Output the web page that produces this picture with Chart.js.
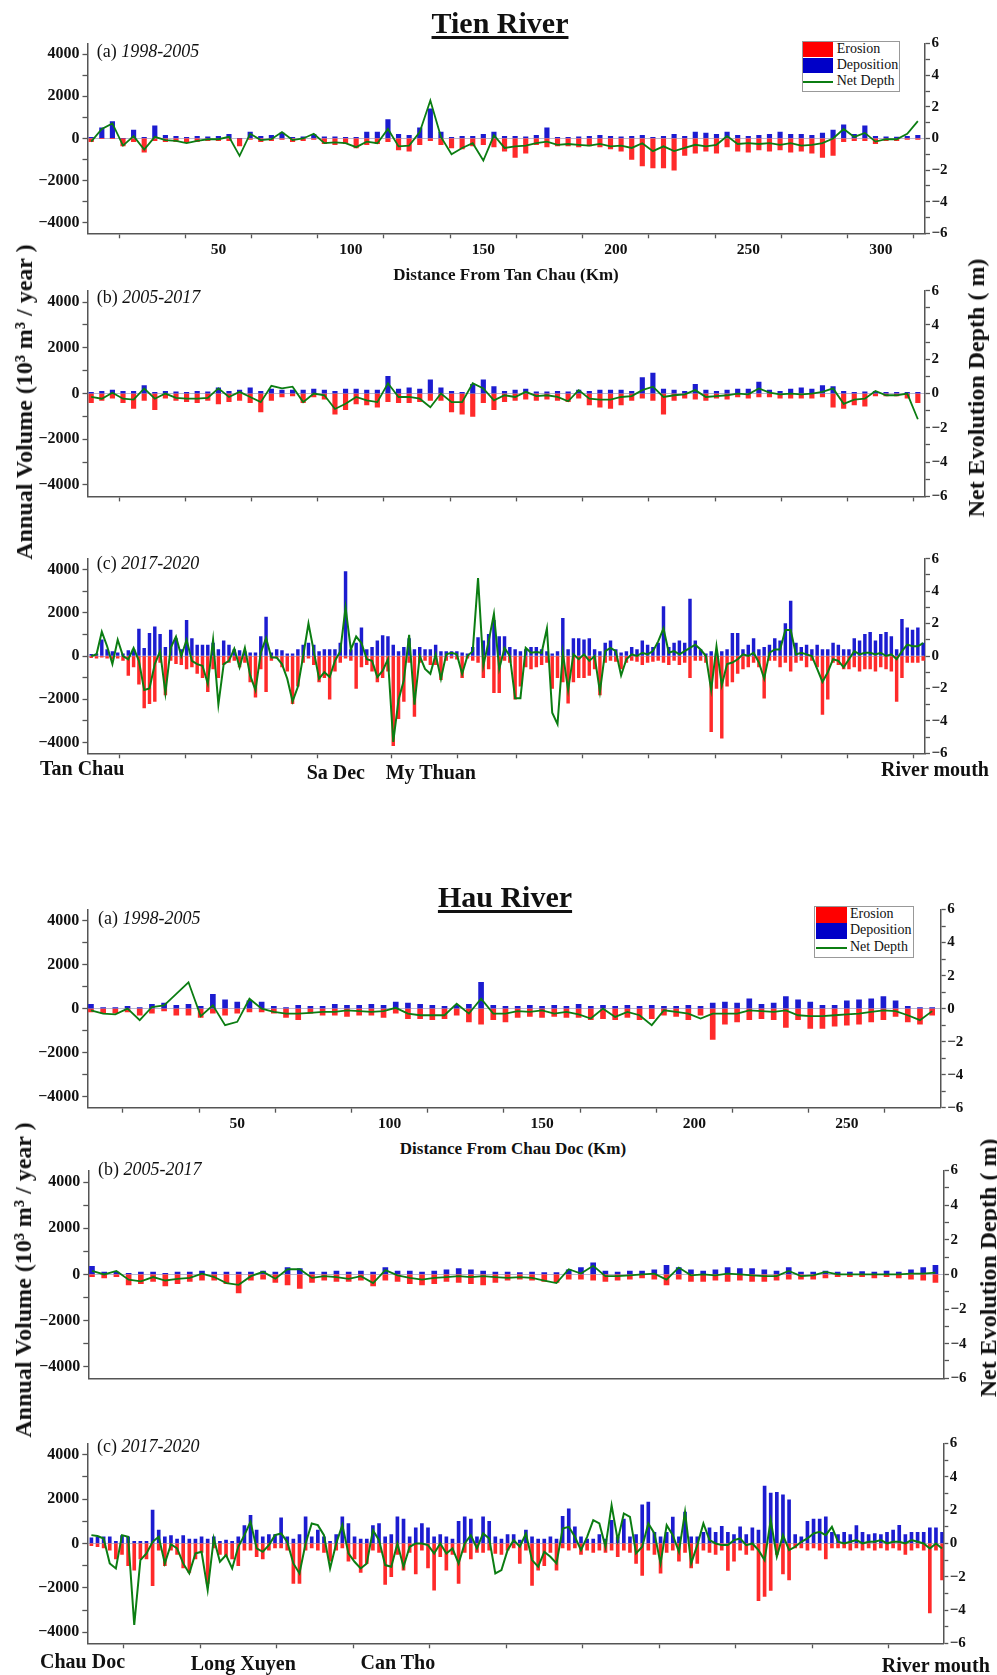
<!DOCTYPE html>
<html><head><meta charset="utf-8">
<script src="https://cdn.jsdelivr.net/npm/chart.js@4.4.1/dist/chart.umd.min.js"></script>
<style>
html,body{margin:0;padding:0;background:#fff;}
#page{position:relative;width:997px;height:1675px;overflow:hidden;font-family:'Liberation Serif','Times New Roman',serif;color:#111;}
.pn{position:absolute;left:0;width:997px;}
.t{position:absolute;white-space:nowrap;line-height:1;}
.leg{position:absolute;border:1px solid #999;background:#fff;}
.sw{position:absolute;}
</style></head><body><div id="page"></div>
<script>
// ---------------- DATA ----------------
// Tien River, panels (a) and (b): distance from Tan Chau (km)
const tienKm = [2,6,10,14,18,22,26,30,34,38,42,46,50,54,58,62,66,70,74,78,82,86,90,94,98,102,106,110,114,118,122,126,130,134,138,142,146,150,154,158,162,166,170,174,178,182,186,190,194,198,202,206,210,214,218,222,226,230,234,238,242,246,250,254,258,262,266,270,274,278,282,286,290,294,298,302,306,310,314];
// Tien (a) 1998-2005
const tienA_ero = [-150,0,0,-350,-150,-650,-100,-150,-150,-200,
  -150,-100,-100,-100,-350,-50,-150,-100,-50,-150,
  -100,-50,-250,-300,-250,-450,-300,-250,-150,-550,
  -600,-300,-100,-300,-450,-500,-350,-300,-400,-600,
  -900,-700,-300,-400,-350,-350,-400,-350,-400,-500,
  -600,-1000,-1300,-1400,-1400,-1500,-800,-700,-600,-700,
  -400,-600,-650,-550,-600,-550,-650,-600,-700,-900,
  -800,-150,-100,-100,-250,-100,-100,-50,-50];
const tienA_dep = [50,500,800,0,400,50,600,150,100,50,
  100,80,100,200,0,300,100,150,250,50,
  80,200,80,80,50,50,300,300,900,200,
  150,500,1400,300,50,100,100,200,300,100,
  100,80,150,500,50,50,80,100,150,100,
  80,100,150,50,100,200,100,300,250,200,
  300,150,100,150,200,300,200,200,150,250,
  400,650,200,600,100,80,60,100,150];
const tienA_net = [-0.2,0.6,0.95,-0.45,0.15,-0.7,0.1,-0.1,-0.15,-0.3,
  -0.15,-0.05,-0.05,0.1,-1.1,0.3,-0.1,-0.05,0.4,-0.1,
  0.0,0.3,-0.3,-0.25,-0.3,-0.55,-0.2,-0.3,0.6,-0.5,
  -0.45,0.4,2.4,0.1,-1.0,-0.6,-0.3,-1.4,0.2,-0.6,
  -0.5,-0.45,-0.3,-0.2,-0.4,-0.35,-0.4,-0.45,-0.35,-0.5,
  -0.45,-0.6,-0.3,-0.8,-0.5,-0.8,-0.6,-0.4,-0.5,-0.4,
  0.15,-0.35,-0.3,-0.35,-0.3,-0.4,-0.3,-0.45,-0.4,-0.3,
  0.0,0.6,0.1,0.35,-0.2,-0.05,-0.05,0.3,1.1];
// Tien (b) 2005-2017
const tienB_ero = [-400,-300,-200,-400,-650,-300,-700,-200,-300,-350,
  -400,-300,-450,-350,-300,-400,-800,-300,-150,-100,
  -400,-150,-250,-900,-700,-450,-500,-600,-350,-400,
  -400,-350,-300,-300,-800,-900,-1000,-400,-700,-350,
  -300,-250,-300,-250,-300,-350,-200,-500,-600,-650,
  -500,-300,-200,-300,-900,-300,-200,-250,-300,-200,
  -250,-150,-200,-150,-150,-200,-200,-200,-200,-150,
  -600,-650,-500,-550,-100,-100,-100,-200,-400];
const tienB_dep = [50,100,150,100,100,350,50,100,80,50,
  100,80,250,100,150,250,100,200,150,150,
  150,200,150,100,200,200,150,150,750,200,
  250,200,600,250,100,50,400,600,300,100,
  150,200,80,80,100,80,150,100,150,150,
  150,100,700,900,200,150,100,400,150,100,
  150,200,200,500,150,100,200,250,200,350,
  300,100,50,80,100,50,50,50,50];
const tienB_net = [-0.2,-0.3,0.05,-0.3,-0.35,0.3,-0.3,0.0,-0.25,-0.3,
  -0.3,-0.25,0.3,-0.2,0.1,-0.2,-0.5,0.45,0.3,0.4,
  -0.5,0.0,-0.1,-0.9,-0.6,-0.2,-0.4,-0.5,0.6,-0.2,
  -0.2,-0.3,-0.8,0.0,-0.5,-0.5,0.6,0.3,-0.4,-0.1,
  -0.2,0.1,-0.15,-0.1,-0.2,-0.45,0.2,-0.3,-0.35,-0.35,
  -0.2,-0.15,0.2,0.4,-0.2,-0.1,-0.05,0.2,-0.2,-0.15,
  -0.1,0.0,-0.05,0.3,0.05,-0.05,0.0,-0.05,0.0,0.1,
  0.3,-0.6,-0.35,-0.3,0.15,-0.1,-0.1,0.0,-1.5];
// Tien (c) 2017-2020, finer spacing
const tienKmC = [2,4,6,8,10,12,14,16,18,20,22,24,26,28,30,32,34,36,38,40,42,44,46,48,50,52,54,56,58,60,62,64,66,68,70,72,74,76,78,80,82,84,86,88,90,92,94,96,98,100,102,104,106,108,110,112,114,116,118,120,122,124,126,128,130,132,134,136,138,140,142,144,146,148,150,152,154,156,158,160,162,164,166,168,170,172,174,176,178,180,182,184,186,188,190,192,194,196,198,200,202,204,206,208,210,212,214,216,218,220,222,224,226,228,230,232,234,236,238,240,242,244,246,248,250,252,254,256,258,260,262,264,266,268,270,272,274,276,278,280,282,284,286,288,290,292,294,296,298,300,302,304,306,308,310,312,314,316];
const tienC_ero = [-80,-100,-50,-100,-150,-100,-200,-900,-500,-1300,
  -2400,-2200,-2100,-300,-1800,-200,-350,-400,-600,-500,
  -800,-1000,-1650,-600,-1000,-400,-300,-200,-500,-300,
  -1200,-1900,-600,-1650,-200,-100,-500,-700,-2200,-1400,
  -300,-100,-400,-1200,-1000,-2000,-700,-300,-100,-200,
  -1500,-500,-400,-700,-1200,-1000,-700,-4150,-2900,-2100,
  -300,-2800,-300,-200,-400,-400,-1100,-200,-100,-150,
  -1000,-100,-200,-300,-1000,-600,-1700,-1700,-200,-300,
  -2000,-1400,-500,-600,-500,-400,-300,-1500,-1000,-1200,
  -2180,-1200,-1000,-1000,-900,-600,-1800,-300,-200,-250,
  -600,-300,-200,-250,-400,-300,-250,-200,-300,-400,
  -200,-400,-300,-1000,-200,-200,-300,-3500,-1500,-3800,
  -1400,-1200,-800,-600,-500,-300,-500,-1950,-200,-200,
  -500,-300,-700,-300,-200,-500,-200,-500,-2700,-2000,
  -300,-400,-600,-600,-500,-700,-600,-600,-700,-500,
  -600,-700,-2100,-1000,-300,-300,-300,-200];
const tienC_dep = [80,100,750,300,200,150,100,250,300,1250,
  350,1050,1350,1000,400,1200,800,300,1650,800,
  500,500,500,600,300,700,500,300,250,200,
  150,150,900,1800,150,300,250,100,100,300,
  500,600,500,200,300,300,300,600,3900,300,
  600,1300,300,400,700,950,900,500,200,400,
  800,300,400,300,300,500,200,200,200,200,
  150,100,400,850,700,1000,1650,900,900,400,
  300,200,300,400,400,300,200,100,200,1740,
  300,800,800,750,800,300,200,600,700,300,
  150,200,400,300,700,500,400,600,2280,400,
  600,700,600,2630,700,300,100,200,100,200,
  300,1050,1050,300,500,800,300,400,500,800,
  700,1500,2540,600,400,500,300,500,300,300,
  600,500,300,300,800,700,1000,1100,700,1000,
  1100,900,300,1700,1300,1200,1300,600];
const tienC_net = [0.0,0.1,1.5,0.6,-0.5,1.0,0.0,-0.2,0.5,-0.3,
  -2.1,-2.0,-0.5,0.3,-2.3,0.5,1.2,0.0,1.0,-0.3,
  -0.5,-0.6,-1.7,1.0,-3.0,-0.5,-0.3,0.45,-0.7,0.5,
  -1.2,-2.1,0.2,1.1,-0.1,-0.1,-0.5,-1.4,-2.8,-1.9,
  0.0,2.0,0.3,-1.4,-1.0,-1.3,-0.3,0.3,3.0,0.4,
  1.2,0.8,-0.2,-0.3,-1.3,-0.9,-0.2,-5.3,-2.7,-1.5,
  1.3,-3.0,0.0,-0.8,-1.1,0.1,-1.4,0.1,0.2,0.1,
  -1.1,0.0,0.3,4.8,-0.6,0.9,2.6,-0.8,0.5,0.0,
  -2.6,-2.6,0.5,0.2,0.25,0.2,1.7,-3.5,-4.2,0.2,
  -2.1,0.1,-0.2,0.1,-0.3,0.0,-2.2,0.3,0.5,0.3,
  -1.2,-0.2,0.1,0.0,0.2,0.1,0.3,0.9,1.7,0.2,
  0.3,0.1,0.3,0.5,0.7,0.4,0.0,-2.1,0.6,-1.8,
  -0.5,-0.4,-0.2,0.1,0.0,0.2,-0.4,-1.4,0.2,0.4,
  0.4,1.6,1.6,0.1,0.2,0.1,0.0,-0.8,-1.6,-1.0,
  -0.2,-0.3,-0.7,-0.2,0.3,0.1,0.2,0.2,0.1,0.2,
  0.0,0.1,-0.2,0.3,0.7,0.6,0.6,0.8];

// Hau River, panels (a) and (b): distance from Chau Doc (km)
const hauKm = [2,6,10,14,18,22,26,30,34,38,42,46,50,54,58,62,66,70,74,78,82,86,90,94,98,102,106,110,114,118,122,126,130,134,138,142,146,150,154,158,162,166,170,174,178,182,186,190,194,198,202,206,210,214,218,222,226,230,234,238,242,246,250,254,258,262,266,270,274,278];
const hauA_ero = [-150,-200,-200,-150,-300,-200,-100,-300,-300,-400,
  -200,-300,-200,-150,-150,-200,-400,-500,-200,-300,
  -300,-350,-300,-300,-400,-200,-450,-450,-500,-450,
  -300,-600,-700,-500,-600,-400,-350,-400,-350,-400,
  -400,-500,-450,-500,-400,-500,-450,-300,-350,-500,
  -300,-1400,-700,-600,-500,-450,-500,-850,-500,-900,
  -900,-800,-750,-700,-600,-500,-350,-600,-700,-300];
const hauA_dep = [200,50,50,100,50,200,250,150,200,100,
  650,400,300,350,300,100,50,150,100,100,
  200,150,150,200,150,300,250,200,150,100,
  150,200,1200,150,100,100,150,100,150,100,
  200,100,150,100,150,100,150,100,100,150,
  100,250,300,250,450,200,250,550,400,300,
  150,150,350,400,450,550,350,100,50,50];
const hauA_net = [-0.1,-0.3,-0.35,0.0,-0.7,0.1,0.2,0.9,1.6,-0.45,
  0.2,-1.0,-0.8,0.6,0.0,-0.2,-0.3,-0.3,-0.25,-0.2,
  -0.2,-0.1,-0.15,-0.2,-0.15,0.05,-0.3,-0.4,-0.4,-0.4,
  0.3,-0.3,0.6,-0.3,-0.3,-0.15,-0.2,-0.1,-0.3,-0.2,
  -0.35,-0.6,0.0,-0.5,-0.2,-0.4,-1.0,-0.1,-0.2,-0.3,
  -0.6,-0.3,-0.3,-0.3,-0.1,-0.15,-0.2,-0.1,-0.4,-0.45,
  -0.45,-0.4,-0.35,-0.3,-0.2,-0.1,-0.15,-0.4,-0.7,-0.15];
const hauB_ero = [-100,-150,-100,-450,-400,-300,-500,-400,-300,-250,
  -250,-400,-800,-250,-200,-350,-450,-600,-350,-250,
  -300,-300,-250,-500,-250,-300,-400,-450,-400,-300,
  -350,-400,-450,-350,-250,-200,-250,-300,-350,-200,
  -200,-250,-300,-250,-200,-150,-200,-450,-200,-300,
  -300,-250,-300,-250,-300,-300,-250,-200,-200,-200,
  -150,-100,-100,-100,-150,-100,-150,-200,-250,-350];
const hauB_dep = [350,100,100,50,100,100,50,100,100,150,
  100,100,100,100,150,100,300,250,100,100,
  150,100,150,100,300,150,150,100,150,200,
  250,200,150,100,100,80,100,80,80,200,
  300,500,150,100,150,150,200,400,300,200,
  150,200,300,250,250,200,150,300,100,100,
  150,100,100,120,100,150,100,200,300,400];
const hauB_net = [0.2,0.0,0.2,-0.3,-0.4,-0.15,-0.35,-0.25,-0.2,0.05,
  -0.15,-0.5,-0.6,-0.1,0.15,-0.25,0.3,0.3,-0.2,-0.1,
  -0.15,-0.25,-0.1,-0.5,0.25,-0.05,-0.2,-0.3,-0.2,-0.15,
  -0.1,-0.15,-0.1,-0.15,-0.2,-0.15,-0.2,-0.35,-0.5,0.3,
  0.05,0.5,-0.1,-0.1,-0.05,0.0,0.05,-0.3,0.4,-0.05,
  0.0,-0.05,0.05,0.0,-0.05,-0.1,-0.1,0.2,-0.1,-0.05,
  0.15,0.0,0.0,0.0,0.0,0.0,0.0,0.05,0.05,0.1];
// Hau (c) 2017-2020, finer spacing
const hauKmC = [2,4,6,8,10,12,14,16,18,20,22,24,26,28,30,32,34,36,38,40,42,44,46,48,50,52,54,56,58,60,62,64,66,68,70,72,74,76,78,80,82,84,86,88,90,92,94,96,98,100,102,104,106,108,110,112,114,116,118,120,122,124,126,128,130,132,134,136,138,140,142,144,146,148,150,152,154,156,158,160,162,164,166,168,170,172,174,176,178,180,182,184,186,188,190,192,194,196,198,200,202,204,206,208,210,212,214,216,218,220,222,224,226,228,230,232,234,236,238,240,242,244,246,248,250,252,254,256,258,260,262,264,266,268,270,272,274,276,278,280];
const hauC_ero = [-100,-150,-200,-300,-700,-500,-1000,-1200,-700,-700,
  -1900,-300,-1000,-300,-500,-1100,-1300,-700,-400,-1800,
  -200,-500,-600,-700,-1000,-300,-300,-600,-700,-300,
  -200,-200,-300,-1800,-1800,-300,-200,-300,-400,-800,
  -300,-200,-800,-700,-1300,-900,-300,-400,-1850,-1500,
  -500,-1200,-400,-1370,-300,-1100,-2100,-600,-1200,-500,
  -1800,-400,-700,-400,-400,-300,-450,-500,-300,-200,
  -900,-300,-1890,-1200,-1000,-400,-1200,-200,-300,-200,
  -500,-300,-400,-300,-400,-300,-600,-300,-400,-900,
  -1445,-300,-500,-1340,-400,-300,-800,-400,-1100,-900,
  -300,-400,-500,-300,-1220,-800,-300,-500,-300,-2580,
  -2385,-2115,-500,-1370,-1640,-200,-200,-300,-200,-300,
  -700,-200,-200,-200,-300,-200,-300,-200,-300,-200,
  -300,-200,-300,-500,-300,-200,-300,-3130,-300,-1640];
const hauC_dep = [250,300,300,300,100,350,300,100,100,100,
  1500,600,300,350,200,350,200,200,300,200,
  300,100,150,100,300,800,1270,600,300,400,
  400,1160,300,200,400,1200,300,600,300,100,
  400,1200,900,300,200,200,800,900,300,400,
  1200,1100,300,700,900,700,300,400,300,200,
  1000,1200,1100,300,1200,1000,300,200,400,400,
  150,600,300,200,200,300,200,1220,1560,745,
  300,200,200,400,200,1040,300,1100,300,400,
  1740,1860,500,300,500,1190,300,1415,300,300,
  500,700,500,775,500,400,750,400,700,600,
  2580,2265,2300,2190,1970,400,300,1000,1100,1100,
  1200,500,400,500,400,800,500,400,450,400,
  500,600,820,400,500,500,500,700,700,500];
const hauC_net = [0.5,0.45,0.3,-1.2,-1.5,0.5,0.4,-4.9,-1.0,-0.6,
  0.1,0.4,-1.2,-0.05,-0.3,-1.2,-1.8,-0.6,-0.5,-2.8,
  0.3,-1.1,-0.7,-1.5,-0.2,0.5,1.3,-0.3,-0.5,-0.1,
  0.5,0.6,0.1,-1.2,-1.8,0.0,1.2,1.1,0.5,-1.5,
  0.0,1.1,-0.6,-1.1,-1.5,-1.2,0.8,0.2,-1.3,-1.4,
  0.0,-1.4,-0.2,0.0,0.0,-0.1,-0.6,0.0,-0.6,-0.3,
  -1.2,0.0,0.5,-0.3,0.6,0.3,-1.8,-1.6,-0.4,0.2,
  -0.2,0.6,-1.0,-1.4,-0.5,-0.8,-1.2,0.9,1.0,0.4,
  -0.4,0.4,1.4,1.2,-0.2,2.3,0.2,1.8,1.6,-0.6,
  -0.2,1.2,0.6,-1.2,1.1,0.5,-0.5,1.9,-1.2,-0.1,
  1.2,0.2,0.0,-0.1,-0.1,0.2,0.3,-0.1,0.0,-0.4,
  -1.0,1.4,-0.8,0.5,-0.4,-0.2,0.1,0.3,0.6,0.7,
  0.5,1.0,0.1,0.0,0.1,0.2,0.0,0.1,0.1,0.2,
  0.0,0.1,0.1,0.0,0.2,0.1,0.0,-0.3,0.0,-0.3];

// Tick values and labels
const volTicks = [-4000,-3000,-2000,-1000,0,1000,2000,3000,4000];
const volLabels = [-4000,-2000,0,2000,4000];
const depthTicks = [-6,-5,-4,-3,-2,-1,0,1,2,3,4,5,6];
const depthLabels = [-6,-4,-2,0,2,4,6];
const tienXTicks = [25,50,75,100,125,150,175,200,225,250,275,300];
const tienXLabels = [50,100,150,200,250,300];
const tienXTicksC = [25,50,75,100,130.5,150,175,200,225,250,275,300];
const hauXTicks = [25,50,75,100,125,150,175,200,225,250,275];
const hauXLabels = [50,100,150,200,250];

// ---------------- DRAWING ----------------
const FONT = "'Liberation Serif','Times New Roman',serif";
const page = document.getElementById('page');
const fmt = v => v < 0 ? '\u2212' + Math.abs(v) : String(v);

function addText(html, x, base, size, o) {
  o = o || {};
  const d = document.createElement('div');
  d.className = 't';
  d.innerHTML = html;
  d.style.fontSize = size + 'px';
  if (o.bold) d.style.fontWeight = 'bold';
  if (o.italic) d.style.fontStyle = 'italic';
  d.style.top = (base - 0.8375 * size) + 'px';
  if (o.align === 'center') { d.style.left = x + 'px'; d.style.transform = 'translateX(-50%)'; }
  else if (o.align === 'right') { d.style.right = (997 - x) + 'px'; }
  else d.style.left = x + 'px';
  if (o.css) Object.assign(d.style, o.css);
  page.appendChild(d);
  return d;
}
function addVText(str, cx, cy, size) {
  const d = document.createElement('div');
  d.className = 't';
  d.textContent = str;
  d.style.fontSize = size + 'px';
  d.style.fontWeight = 'bold';
  d.style.left = cx + 'px';
  d.style.top = cy + 'px';
  d.style.transform = 'translate(-50%,-50%) rotate(-90deg)';
  page.appendChild(d);
}
function box(x0, y0, x1, y1, bg, cls) {
  const d = document.createElement('div');
  d.className = cls || 'sw';
  d.style.left = x0 + 'px'; d.style.top = y0 + 'px';
  d.style.width = (x1 - x0) + 'px'; d.style.height = (y1 - y0) + 'px';
  if (bg) d.style.background = bg;
  page.appendChild(d);
}
function legend(x0, y0, x1, y1, sx0, sx1, tx, bases) {
  box(x0, y0, x1, y1, '#fff', 'leg');
  const h = (y1 - y0) / 3;
  box(sx0, y0 + 1, sx1, y0 + h, '#ff0000');
  box(sx0, y0 + h + 0.5, sx1, y0 + 2 * h - 0.5, '#0000c8');
  box(sx0, y0 + 2.5 * h - 1, sx1, y0 + 2.5 * h + 1, '#0b7d12');
  addText('Erosion', tx, bases[0], 14);
  addText('Deposition', tx, bases[1], 14);
  addText('Net Depth', tx, bases[2], 14);
}

function makePanel(p) {
  const labelled = p.xLabels.length > 0;
  const ctop = Math.floor(p.T) - 12;
  const cbot = Math.ceil(p.B) + (labelled ? 28 : 12);
  const padTop = p.T - ctop;
  const bottomSpace = cbot - p.B;
  const wrap = document.createElement('div');
  wrap.className = 'pn';
  wrap.style.top = ctop + 'px';
  wrap.style.height = (cbot - ctop) + 'px';
  const cv = document.createElement('canvas');
  cv.width = 997; cv.height = cbot - ctop;
  cv.style.width = '997px'; cv.style.height = (cbot - ctop) + 'px';
  wrap.appendChild(cv);
  page.appendChild(wrap);
  const axisCol = '#555';
  const tickFont = { family: FONT, size: 16, weight: 'bold' };
  new Chart(cv, {
    type: 'bar',
    data: {
      datasets: [
        { type: 'line', label: 'Net Depth', yAxisID: 'y2',
          data: p.km.map((k, i) => ({ x: k, y: p.net[i] })),
          borderColor: '#0b7d12', borderWidth: p.lw, pointRadius: 0, tension: 0, order: 0 },
        { type: 'bar', label: 'Erosion', yAxisID: 'y',
          data: p.km.map((k, i) => ({ x: k, y: p.ero[i] })),
          backgroundColor: '#ff2a2a', barThickness: p.bar, grouped: false, order: 1 },
        { type: 'bar', label: 'Deposition', yAxisID: 'y',
          data: p.km.map((k, i) => ({ x: k, y: p.dep[i] })),
          backgroundColor: '#1c1cd0', barThickness: p.bar, grouped: false, order: 2 }
      ]
    },
    options: {
      responsive: false, animation: false, devicePixelRatio: 1,
      layout: { padding: { top: padTop, left: 0, right: 0, bottom: 0 } },
      plugins: { legend: { display: false }, tooltip: { enabled: false } },
      scales: {
        x: {
          type: 'linear', position: 'bottom', min: p.xmin, max: p.xmax, offset: false,
          afterBuildTicks: s => { s.ticks = p.xTicks.map(v => ({ value: v })); },
          afterFit: s => { s.height = bottomSpace; },
          ticks: { display: p.xTicks.length > 0, autoSkip: false, maxRotation: 0, padding: 2,
            font: { family: FONT, size: 15.5, weight: 'bold' }, color: '#111',
            callback: v => p.xLabels.includes(v) ? String(v) : '' },
          grid: { drawOnChartArea: false, drawTicks: p.xTicks.length > 0, tickLength: 5,
            tickColor: axisCol, tickWidth: 1.3, color: axisCol },
          border: { display: true, color: axisCol, width: 1.5 }
        },
        y: {
          type: 'linear', position: 'left', min: -4500, max: 4500,
          afterBuildTicks: s => { s.ticks = volTicks.map(v => ({ value: v })); },
          afterFit: s => { s.width = p.L; },
          ticks: { autoSkip: false, padding: 3, font: tickFont, color: '#111',
            callback: v => volLabels.includes(v) ? fmt(v) : '' },
          grid: { drawOnChartArea: true, tickLength: 5, tickColor: axisCol, tickWidth: 1.3, lineWidth: 1,
            color: c => (c.tick && c.tick.value === 0) ? 'rgba(130,130,170,0.55)' : 'rgba(0,0,0,0)' },
          border: { display: true, color: axisCol, width: 1.5 }
        },
        y2: {
          type: 'linear', position: 'right', min: -6, max: 6,
          afterBuildTicks: s => { s.ticks = depthTicks.map(v => ({ value: v })); },
          afterFit: s => { s.width = 997 - p.R; },
          ticks: { autoSkip: false, padding: 1.5, font: { family: FONT, size: 15, weight: 'bold' }, color: '#111',
            callback: v => depthLabels.includes(v) ? fmt(v) : '' },
          grid: { drawOnChartArea: false, tickLength: 5, tickColor: axisCol, tickWidth: 1.3, color: axisCol },
          border: { display: true, color: axisCol, width: 1.5 }
        }
      }
    }
  });
}

// Tien River panels
makePanel({ T: 43.3, B: 233.3, L: 87.5, R: 925, xmin: 0.6, xmax: 316.7, xTicks: tienXTicks, xLabels: tienXLabels,
  km: tienKm, ero: tienA_ero, dep: tienA_dep, net: tienA_net, bar: 4.5, lw: 1.8 });
makePanel({ T: 290.7, B: 496.7, L: 87.5, R: 925, xmin: 0.6, xmax: 316.7, xTicks: tienXTicks, xLabels: [],
  km: tienKm, ero: tienB_ero, dep: tienB_dep, net: tienB_net, bar: 4.5, lw: 1.8 });
makePanel({ T: 558.7, B: 753.3, L: 87.5, R: 925, xmin: 0.6, xmax: 316.7, xTicks: tienXTicksC, xLabels: [],
  km: tienKmC, ero: tienC_ero, dep: tienC_dep, net: tienC_net, bar: 2.8, lw: 2 });
// Hau River panels
makePanel({ T: 909.5, B: 1107.7, L: 87.3, R: 940.7, xmin: 0.8, xmax: 280.8, xTicks: hauXTicks, xLabels: hauXLabels,
  km: hauKm, ero: hauA_ero, dep: hauA_dep, net: hauA_net, bar: 5, lw: 1.8 });
makePanel({ T: 1170.5, B: 1378.3, L: 88.3, R: 944, xmin: 0.8, xmax: 280.8, xTicks: [], xLabels: [],
  km: hauKm, ero: hauB_ero, dep: hauB_dep, net: hauB_net, bar: 5, lw: 1.8 });
makePanel({ T: 1443.3, B: 1643.3, L: 87.3, R: 943.3, xmin: 0.66, xmax: 280.4, xTicks: hauXTicks, xLabels: [],
  km: hauKmC, ero: hauC_ero, dep: hauC_dep, net: hauC_net, bar: 3, lw: 2 });

// Titles
const uline = { textDecoration: 'underline', textDecorationThickness: '2.5px', textUnderlineOffset: '3px' };
addText('Tien River', 500, 33.3, 30, { bold: true, align: 'center', css: uline });
addText('Hau River', 505, 907.3, 30, { bold: true, align: 'center', css: uline });

// Panel labels
addText('(a) <i>1998-2005</i>', 96.7, 57.3, 18);
addText('(b) <i>2005-2017</i>', 96.7, 303.3, 18);
addText('(c) <i>2017-2020</i>', 96.7, 569.3, 18);
addText('(a) <i>1998-2005</i>', 98, 924, 18);
addText('(b) <i>2005-2017</i>', 98, 1175, 18);
addText('(c) <i>2017-2020</i>', 97, 1451.7, 18);

// X-axis titles
addText('Distance From Tan Chau (Km)', 506, 280.5, 17, { bold: true, align: 'center' });
addText('Distance From Chau Doc (Km)', 513, 1154, 17, { bold: true, align: 'center' });

// Y-axis titles
addVText('Annual Volume (10\u00B3 m\u00B3 / year )', 23.5, 402, 24);
addVText('Net Evolution Depth ( m)', 975.5, 388, 24);
addVText('Annual Volume (10\u00B3 m\u00B3 / year )', 23, 1280, 24);
addVText('Net Evolution Depth ( m)', 988, 1268, 24);

// Place names
addText('Tan Chau', 40, 775, 20, { bold: true });
addText('Sa Dec', 335.8, 779, 20, { bold: true, align: 'center' });
addText('My Thuan', 430.8, 779, 20, { bold: true, align: 'center' });
addText('River mouth', 935, 776, 20, { bold: true, align: 'center' });
addText('Chau Doc', 40, 1668, 20, { bold: true });
addText('Long Xuyen', 243.3, 1669.3, 20, { bold: true, align: 'center' });
addText('Can Tho', 397.8, 1669, 20, { bold: true, align: 'center' });
addText('River mouth', 935.8, 1671.7, 20, { bold: true, align: 'center' });

// Legends
legend(801.7, 40.7, 898.3, 90, 803, 833, 836.7, [53.3, 70, 86]);
legend(814, 906, 912.3, 956, 815.5, 846.5, 850, [918.3, 935, 951.7]);
</script></body></html>
